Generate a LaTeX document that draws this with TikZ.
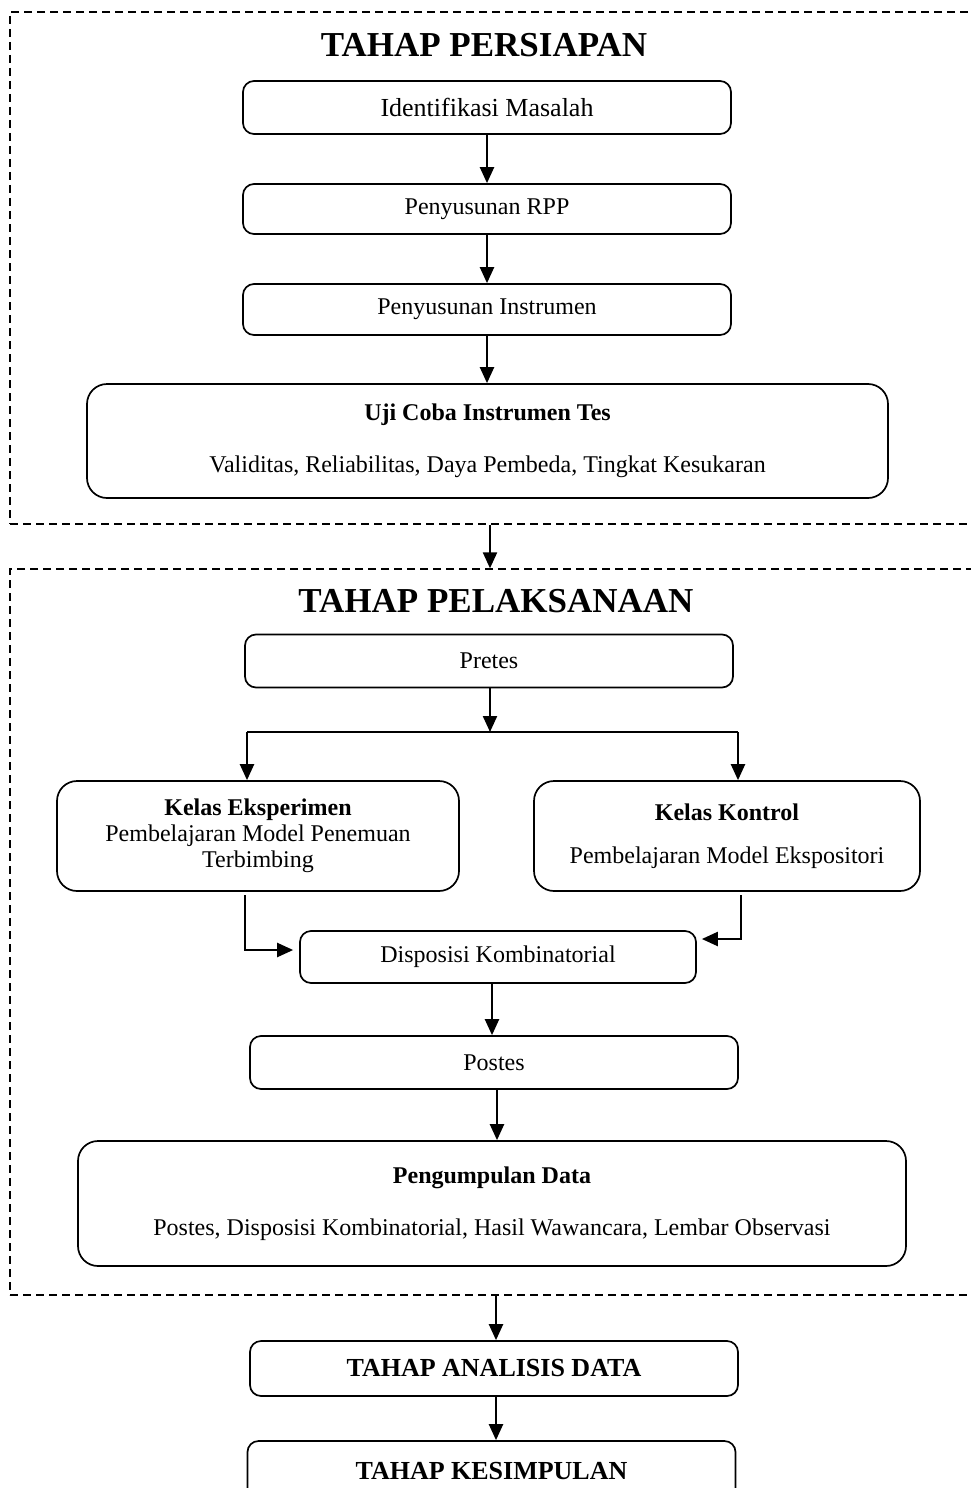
\documentclass[tikz,border=0pt]{standalone}
\usepackage{fontspec}
\setmainfont{Liberation Serif}
\usetikzlibrary{arrows.meta}
\tikzset{
  box/.style={draw, line width=1.7pt, rounded corners=11pt, align=center, inner sep=0pt,
              font=\fontsize{24}{28}\selectfont},
  bigbox/.style={box, rounded corners=20pt},
  frame/.style={draw, dashed, dash pattern=on 8pt off 5pt, line width=1.3pt, inner sep=0pt},
  ttl/.style={font=\fontsize{35}{40}\selectfont\bfseries, inner sep=0pt},
  arr/.style={line width=2.2pt, -{Triangle[width=14pt,length=16pt]}},
  ln/.style={line width=2.2pt}
}
\begin{document}
\begin{tikzpicture}[x=1pt,y={(0pt,-1pt)}]
\clip (0,0) rectangle (971,1488);
% frames
\node[frame, minimum width=990pt, minimum height=512pt] (f1) at (505,268) {};
\node[frame, minimum width=990pt, minimum height=726pt] (f2) at (505,932) {};
% titles
\node[ttl] (t1) at (484,45) {TAHAP PERSIAPAN};
\node[ttl] (t2) at (496,601) {TAHAP PELAKSANAAN};
% stage 1
\node[box, minimum width=488pt, minimum height=53pt, font=\fontsize{26}{30}\selectfont] (idm) at (487,107.5) {Identifikasi Masalah};
\node[box, minimum width=488pt, minimum height=50pt] (rpp) at (487,209) {Penyusunan RPP};
\node[box, minimum width=488pt, minimum height=51pt] (ins) at (487,309.5) {Penyusunan Instrumen};
\node[bigbox, minimum width=801pt, minimum height=114pt] (uji) at (487.5,441) {\textbf{Uji Coba Instrumen Tes}\\[24pt]Validitas, Reliabilitas, Daya Pembeda, Tingkat Kesukaran};
% stage 2
\node[box, minimum width=488pt, minimum height=53pt] (pre) at (489,661) {Pretes};
\node[bigbox, minimum width=402pt, minimum height=110pt] (eks) at (258,836) {\textbf{Kelas Eksperimen}\\[-2pt]Pembelajaran Model Penemuan\\[-2pt]Terbimbing};
\node[bigbox, minimum width=386pt, minimum height=110pt] (kon) at (727,836) {\textbf{Kelas Kontrol}\\[15pt]Pembelajaran Model Ekspositori};
\node[box, minimum width=396pt, minimum height=52pt] (disp) at (498,957) {Disposisi Kombinatorial};
\node[box, minimum width=488pt, minimum height=53pt] (pos) at (494,1062.5) {Postes};
\node[bigbox, minimum width=828pt, minimum height=125pt] (peng) at (492,1203.5) {\textbf{Pengumpulan Data}\\[24pt]Postes, Disposisi Kombinatorial, Hasil Wawancara, Lembar Observasi};
% stage 3,4
\node[box, minimum width=488pt, minimum height=55pt, font=\fontsize{26}{30}\selectfont\bfseries] (ana) at (494,1368.5) {TAHAP ANALISIS DATA};
\node[box, minimum width=488pt, minimum height=60pt, font=\fontsize{26}{30}\selectfont\bfseries] (kes) at (491.5,1471) {TAHAP KESIMPULAN};
% coordinates
\coordinate (split) at (490,732);
\coordinate (sl) at (247,732);
\coordinate (sr) at (738,732);
\coordinate (el) at (245,895);
\coordinate (er) at (741,895);
\coordinate (jl) at (245,950);
\coordinate (jr) at (741,939);
% connectors
\draw[arr] (idm.south) -- (rpp.north);
\draw[arr] (rpp.south) -- (ins.north);
\draw[arr] (ins.south) -- (uji.north -| ins.south);
\draw[arr] (f1.south -| 490,0) -- (f2.north -| 490,0);
\draw[arr] (pre.south -| split) -- (split);
\draw[ln] (sl) -- (sr);
\draw[arr] (sl) -- (eks.north -| sl);
\draw[arr] (sr) -- (kon.north -| sr);
\draw[arr] (el) -- (jl) -- ([xshift=-6pt]disp.west |- jl);
\draw[arr] (er) -- (jr) -- ([xshift=5pt]disp.east |- jr);
\draw[arr] (disp.south -| 492,0) -- (pos.north -| 492,0);
\draw[arr] (pos.south -| 497,0) -- (peng.north -| 497,0);
\draw[arr] (f2.south -| 496,0) -- (ana.north -| 496,0);
\draw[arr] (ana.south -| 496,0) -- (kes.north -| 496,0);
\end{tikzpicture}
\end{document}
